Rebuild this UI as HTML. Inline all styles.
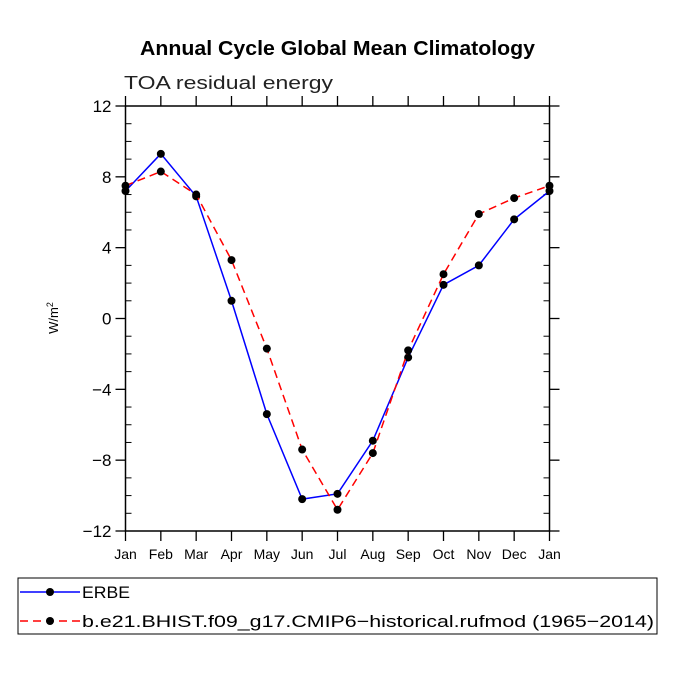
<!DOCTYPE html>
<html><head><meta charset="utf-8"><style>body{margin:0;background:#fff}svg{display:block}</style></head>
<body>
<svg id="chart" width="675" height="675" xmlns="http://www.w3.org/2000/svg" font-family="Liberation Sans, sans-serif">
<text x="140" y="55" textLength="395" lengthAdjust="spacingAndGlyphs" font-weight="bold" font-size="20">Annual Cycle Global Mean Climatology</text>
<text x="124" y="89" textLength="209" lengthAdjust="spacingAndGlyphs" font-size="18" fill="#222">TOA residual energy</text>
<text transform="translate(58,318) rotate(-90)" text-anchor="middle" font-size="13">W/m<tspan dy="-5" font-size="9">2</tspan></text>
<g id="axes"></g><g id="series"></g>
<rect x="18" y="578" width="639" height="56" fill="none" stroke="#000"/>
<g>
<line x1="20" y1="592" x2="80" y2="592" stroke="#0000ff" stroke-width="1.5"/><circle cx="50" cy="592" r="4"/>
<text x="82" y="598" textLength="48" lengthAdjust="spacingAndGlyphs" font-size="17">ERBE</text></g>
<g>
<line x1="20" y1="621" x2="80" y2="621" stroke="#ff0000" stroke-width="1.5" stroke-dasharray="8,5"/><circle cx="50" cy="621" r="4"/>
<text x="82" y="627" textLength="572" lengthAdjust="spacingAndGlyphs" font-size="17">b.e21.BHIST.f09_g17.CMIP6−historical.rufmod (1965−2014)</text></g>
</svg>
<script>
const months=["Jan","Feb","Mar","Apr","May","Jun","Jul","Aug","Sep","Oct","Nov","Dec","Jan"];
const erbe=[7.2,9.3,6.9,1.0,-5.4,-10.2,-9.9,-6.9,-2.2,1.9,3.0,5.6,7.2];
const model=[7.5,8.3,7.0,3.3,-1.7,-7.4,-10.8,-7.6,-1.8,2.5,5.9,6.8,7.5];
const yTicks=[-12,-8,-4,0,4,8,12];
const X0=125.5,X1=549.5,Y0=106,Y1=531;
const xs=i=>X0+(X1-X0)*i/12;
const ys=v=>Y1-(v+12)/24*(Y1-Y0);
const NS="http://www.w3.org/2000/svg";
function mk(t,a,p){const e=document.createElementNS(NS,t);for(const k in a)e.setAttribute(k,a[k]);p.appendChild(e);return e;}
const ax=document.getElementById('axes');
const fr=mk('rect',{x:X0,y:Y0,width:X1-X0,height:Y1-Y0,fill:'none',stroke:'#000','stroke-width':1.5},ax);


for(let i=0;i<months.length;i++){const x=xs(i);
 mk('line',{x1:x,y1:Y1,x2:x,y2:Y1+10,stroke:'#000','stroke-width':1.3},ax);
 mk('line',{x1:x,y1:Y0,x2:x,y2:Y0-10,stroke:'#000','stroke-width':1.3},ax);
 const t=mk('text',{x:x,y:Y1+28,'text-anchor':'middle','font-size':14},ax);t.textContent=months[i];
 
 }
for(let v=-12;v<=12;v++){const y=ys(v);const major=v%4===0;
 if(major){mk('line',{x1:X0-10,y1:y,x2:X0,y2:y,stroke:'#000','stroke-width':1.3},ax);mk('line',{x1:X1,y1:y,x2:X1+10,y2:y,stroke:'#000','stroke-width':1.3},ax);}
 else{mk('line',{x1:X0,y1:y,x2:X0+6,y2:y,stroke:'#000'},ax);mk('line',{x1:X1-6,y1:y,x2:X1,y2:y,stroke:'#000'},ax);}}
for(const v of yTicks){const t=mk('text',{x:X0-14,y:ys(v)+6,'text-anchor':'end','font-size':17},ax);t.textContent=(v<0?'−'+(-v):v);
 
 }
const sg=document.getElementById('series');
function draw(vals,color,dash,name){const g=mk('g',{},sg);
 
 
 mk('polyline',{points:vals.map((v,i)=>xs(i)+','+ys(v)).join(' '),fill:'none',stroke:color,'stroke-width':1.5,'stroke-dasharray':dash},g);
 vals.forEach((v,i)=>{const c=mk('circle',{cx:xs(i),cy:ys(v),r:4},g);
 
 });}
draw(erbe,'#0000ff','none','erbe-line');
draw(model,'#ff0000','8,5','model-line');
</script>
</body></html>
